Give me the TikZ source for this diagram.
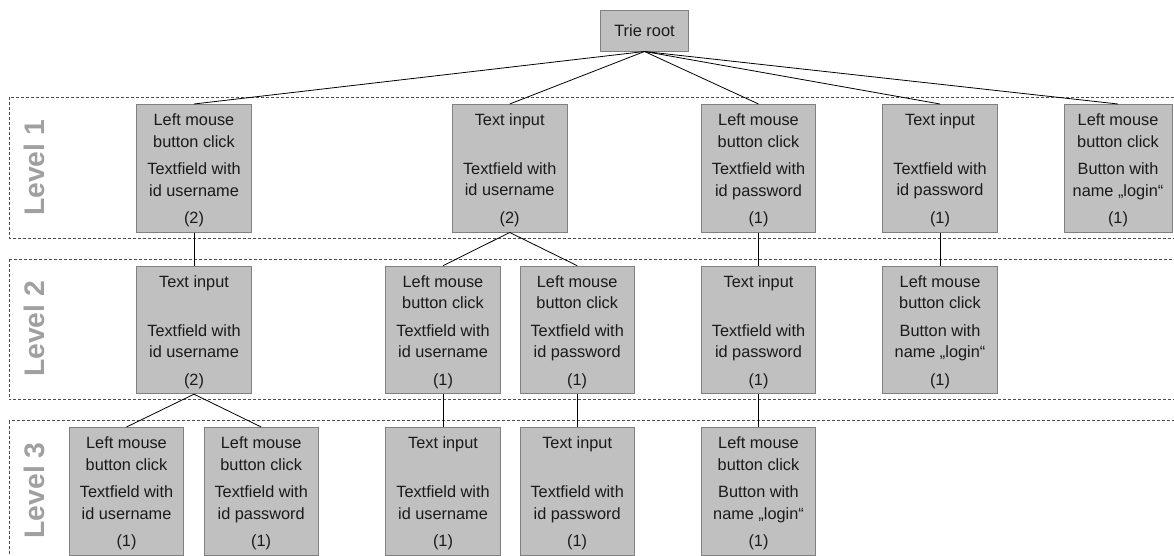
\documentclass[tikz,border=0pt]{standalone}
\usepackage{fontspec}
\setmainfont{Liberation Sans}
\definecolor{boxfill}{HTML}{C0C0C0}
\definecolor{boxline}{HTML}{808080}
\definecolor{bandline}{HTML}{4D4D4D}
\definecolor{levelgray}{HTML}{A0A0A0}
\definecolor{ink}{HTML}{1A1A1A}
\tikzset{
  tbox/.style={draw=boxline, fill=boxfill, line width=0.8pt, inner sep=0pt,
    minimum width=114.5pt, minimum height=127.7pt},
  tlabel/.style={inner sep=0pt, align=center, text=ink,
    font=\fontsize{16.3}{21.3}\selectfont},
  rootbox/.style={draw=boxline, fill=boxfill, line width=0.8pt, inner sep=0pt,
    minimum width=87.5pt, minimum height=40.7pt, text=ink,
    font=\fontsize{16.4}{19}\selectfont},
  conn/.style={draw=black, line width=0.8pt},
  band/.style={draw=bandline, line width=0.8pt, dash pattern=on 3pt off 2pt},
  levellabel/.style={rotate=90, anchor=base, inner sep=0pt, text=levelgray,
    font=\fontsize{28.3}{34}\selectfont\bfseries},
}
% box: name, centre x, top y, width, contents
\newcommand\trienode[5]{%
  \node[tbox, anchor=north, minimum width=#4] (#1) at (#2,-#3) {};
  \node[tlabel, anchor=north] (#1-t) at (#2,-#3-9.6) {\rule{0pt}{12pt}#5};
}
\newcommand\clickuser{Left mouse\\button click\\[6.4pt]Textfield with\\id username}
\newcommand\clickpass{Left mouse\\button click\\[6.4pt]Textfield with\\id password}
\newcommand\clicklogin{Left mouse\\button click\\[6.4pt]Button with\\name „login“}
\newcommand\typeuser{Text input\\[27.6pt]Textfield with\\id username}
\newcommand\typepass{Text input\\[27.6pt]Textfield with\\id password}

\begin{document}
\begin{tikzpicture}[x=1pt, y=1pt]
  \useasboundingbox (0,0) rectangle (1174,-556);
  \clip (0,0) rectangle (1174,-556);

  % level bands
  \draw[band] (9,-97) rectangle (1190,-238.3);
  \draw[band] (9,-259) rectangle (1190,-399.7);
  \draw[band] (9,-420.5) rectangle (1190,-580);

  \node[levellabel] (lv1) at (44,-168) {Level 1};
  \node[levellabel] (lv2) at (44,-329) {Level 2};
  \node[levellabel] (lv3) at (44,-490.5) {Level 3};

  % root
  \node[rootbox, anchor=north] (root) at (644.5,-10) {Trie root};

  % level 1
  \trienode{a}{194}{104}{114.5pt}{\clickuser\\[6.4pt](2)}
  \trienode{b}{509.7}{104}{114.5pt}{\typeuser\\[6.4pt](2)}
  \trienode{c}{758.5}{104}{114.5pt}{\clickpass\\[6.4pt](1)}
  \trienode{d}{940}{104}{114.5pt}{\typepass\\[6.4pt](1)}
  \trienode{e}{1118}{104}{108pt}{\clicklogin\\[6.4pt](1)}

  % level 2
  \trienode{f}{194}{265.7}{114.5pt}{\typeuser\\[6.4pt](2)}
  \trienode{g}{443}{265.7}{114.5pt}{\clickuser\\[6.4pt](1)}
  \trienode{h}{577.2}{265.7}{114.5pt}{\clickpass\\[6.4pt](1)}
  \trienode{i}{758.5}{265.7}{114.5pt}{\typepass\\[6.4pt](1)}
  \trienode{j}{940}{265.7}{114.5pt}{\clicklogin\\[6.4pt](1)}

  % level 3
  \trienode{k}{126.5}{427}{114.5pt}{\clickuser\\[6.4pt](1)}
  \trienode{l}{261.2}{427}{114.5pt}{\clickpass\\[6.4pt](1)}
  \trienode{m}{443}{427}{114.5pt}{\typeuser\\[6.4pt](1)}
  \trienode{n}{577.2}{427}{114.5pt}{\typepass\\[6.4pt](1)}
  \trienode{o}{758.5}{427}{114.5pt}{\clicklogin\\[6.4pt](1)}

  % connectors
  \foreach \child in {a,b,c,d,e} \draw[conn] (root.south) -- (\child.north);
  \draw[conn] (a.south) -- (f.north);
  \draw[conn] (b.south) -- (g.north);
  \draw[conn] (b.south) -- (h.north);
  \draw[conn] (c.south) -- (i.north);
  \draw[conn] (d.south) -- (j.north);
  \draw[conn] (f.south) -- (k.north);
  \draw[conn] (f.south) -- (l.north);
  \draw[conn] (g.south) -- (m.north);
  \draw[conn] (h.south) -- (n.north);
  \draw[conn] (i.south) -- (o.north);
\end{tikzpicture}
\end{document}
